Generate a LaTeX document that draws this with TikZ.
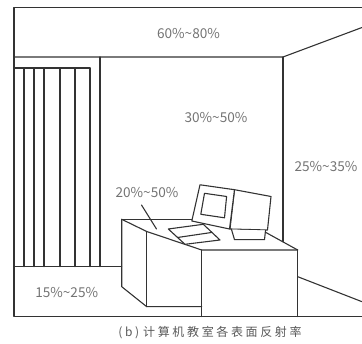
\documentclass[tikz,border=0pt]{standalone}
\usepackage{fontspec}
\setmainfont{Noto Sans CJK SC}
\newfontfamily\capfont[LetterSpace=22]{Noto Sans CJK SC}
\begin{document}
\begin{tikzpicture}[x=1pt,y=-1pt,
  edge/.style={draw=black!80, line width=1.1pt, line join=round, line cap=round},
  pct/.style={text=black!55, font=\fontsize{13.6}{16}\selectfont, inner sep=0pt},
  captiontext/.style={text=black!65, font=\capfont\fontsize{12}{14}\selectfont, inner sep=0pt},
]
\useasboundingbox (0,0) rectangle (362,344);
% room outline: ceiling, left wall, floor
\draw[edge] (362,7.5) -- (14,7.5) -- (14,316.7) -- (362,316.7);
\draw[edge] (14,57) -- (283,57) -- (362,27.5);
\draw[edge] (100,57) -- (100,266.7);
\draw[edge] (283,57) -- (283,241.5);
\draw[edge] (14,266.7) -- (121.7,266.7);
\draw[edge] (297.7,276.7) -- (362,301.7);
% curtain
\draw[edge] (14,68) -- (90,68);
\foreach \x in {24,34,44,60,75,90} \draw[edge] (\x,68) -- (\x,266.7);
% desk and cabinet
\draw[edge] (121.7,219.3) -- (191.7,219.3);
\draw[edge] (121.7,219.3) -- (146.7,231.5) -- (201.7,250) -- (297.7,250);
\draw[edge] (121.7,219.3) -- (121.7,286.7) -- (146.7,306.7) -- (201.7,306.7);
\draw[edge] (146.7,231.5) -- (146.7,306.7);
\draw[edge] (201.7,250) -- (201.7,316.7);
\draw[edge] (297.7,250) -- (297.7,316.7);
\draw[edge] (265,232) -- (297.7,250);
% keyboard
\draw[edge, fill=white] (168.3,229) -- (203.3,224.3) -- (220,240) -- (185,244.3) -- cycle;
\draw[edge] (177.5,237.5) -- (211.5,232.5);
% monitor: body, stand, bezel, screen
\draw[edge, fill=white] (234.5,189.7) -- (271,196.5) -- (267.5,230) -- (230,229) -- cycle;
\draw[edge, fill=white] (231.5,229.5) -- (234.5,239.7) -- (264.5,239.7) -- (265.5,230.5);
\draw[edge, fill=white] (200,184.8) -- (234.5,189.7) -- (229.5,229) -- (191.8,221) -- cycle;
\draw[edge] (204.5,193.3) -- (226.6,196.5) -- (224.5,217.8) -- (200.8,214.3) -- cycle;
% pointer to the desk top
\draw[edge] (141.5,205) -- (156.5,229);
% reflectance labels
\node[pct] (ceiling) at (188.5,33.5) {60\%\textasciitilde80\%};
\node[pct] (backwall) at (216,117.5) {30\%\textasciitilde50\%};
\node[pct] (sidewall) at (326,166.5) {25\%\textasciitilde35\%};
\node[pct] (desktop) at (147,192.5) {20\%\textasciitilde50\%};
\node[pct] (floor) at (66.7,292.3) {15\%\textasciitilde25\%};
\node[captiontext] (caption) at (210,333) {(b)\hspace{4pt}计算机教室各表面反射率};
\end{tikzpicture}
\end{document}
